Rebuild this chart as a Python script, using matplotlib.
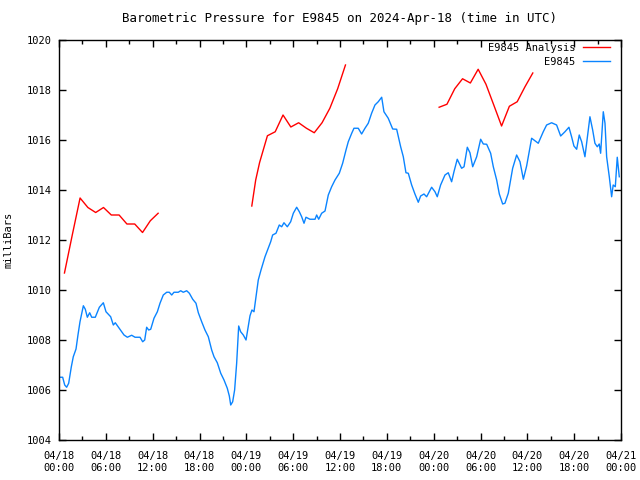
import numpy as np
import pandas as pd
import matplotlib
matplotlib.use('Agg')
import matplotlib.pyplot as plt
import matplotlib.dates as mdates

# hours after 2024-04-18 00:00 UTC
obs_hours = [0.13, 0.47, 0.73, 0.98, 1.24, 1.58, 1.83, 2.18, 2.43, 2.69, 3.12, 3.37, 3.63, 3.93,
             4.19, 4.65, 5.17, 5.68, 6.02, 6.62, 6.96, 7.21, 7.81, 8.33, 8.76, 9.31, 9.74, 10.38,
             10.72, 10.98, 11.23, 11.49, 11.75, 12.17, 12.6, 12.94, 13.36, 13.8, 14.13, 14.44,
             14.73, 15.28, 15.59, 15.92, 16.36, 16.7, 17.13, 17.55, 17.85, 18.28, 18.7, 19.13,
             19.56, 19.86, 20.28, 20.72, 21.14, 21.56, 21.82, 22.0, 22.25, 22.5, 22.76, 23.02,
             23.27, 23.61, 23.96, 24.21, 24.47, 24.72, 24.98, 25.24, 25.53, 25.88, 26.39, 26.81,
             27.12, 27.37, 27.8, 28.22, 28.53, 28.82, 29.25, 29.68, 30.02, 30.45, 30.79, 31.09,
             31.39, 31.64, 32.15, 32.8, 33.01, 33.27, 33.65, 34.08, 34.5, 34.93, 35.36, 35.91,
             36.34, 36.77, 37.06, 37.5, 37.79, 38.34, 38.77, 39.2, 39.62, 40.05, 40.48, 40.9,
             41.34, 41.63, 42.18, 42.75, 43.26, 43.77, 44.11, 44.45, 44.75, 45.18, 45.6, 46.03,
             46.33, 46.76, 47.1, 47.74, 48.17, 48.46, 48.89, 49.45, 49.87, 50.3, 50.6, 51.02,
             51.58, 51.89, 52.31, 52.65, 53.0, 53.51, 54.02, 54.36, 54.79, 55.3, 55.64, 56.07,
             56.41, 56.84, 57.13, 57.56, 58.12, 58.63, 59.06, 59.49, 59.91, 60.55, 60.85, 61.4,
             62.04, 62.47, 63.11, 63.75, 64.27, 64.82, 65.33, 65.67, 65.97, 66.32, 66.65, 66.96,
             67.38, 67.68, 68.02, 68.37, 68.66, 68.96, 69.21, 69.39, 69.73, 69.95, 70.16, 70.5,
             70.8, 71.0, 71.27, 71.52, 71.78]
obs_mb = [1006.51, 1006.51, 1006.2, 1006.11, 1006.27, 1006.93, 1007.33, 1007.64, 1008.2, 1008.73,
          1009.37, 1009.23, 1008.91, 1009.09, 1008.91, 1008.91, 1009.31, 1009.49, 1009.13, 1008.93,
          1008.6, 1008.69, 1008.43, 1008.2, 1008.11, 1008.19, 1008.11, 1008.11, 1007.93, 1008.0,
          1008.51, 1008.4, 1008.43, 1008.87, 1009.13, 1009.47, 1009.8, 1009.91, 1009.91, 1009.8,
          1009.91, 1009.91, 1009.97, 1009.91, 1009.97, 1009.87, 1009.63, 1009.47, 1009.09, 1008.73,
          1008.4, 1008.13, 1007.6, 1007.33, 1007.09, 1006.67, 1006.4, 1006.07, 1005.76, 1005.4,
          1005.53, 1006.0, 1007.07, 1008.56, 1008.33, 1008.2, 1008.0, 1008.47, 1008.97, 1009.2,
          1009.13, 1009.73, 1010.4, 1010.8, 1011.33, 1011.67, 1011.93, 1012.2, 1012.27, 1012.6,
          1012.53, 1012.69, 1012.53, 1012.73, 1013.07, 1013.31, 1013.13, 1012.93, 1012.67, 1012.91,
          1012.83, 1012.83, 1013.0, 1012.83, 1013.07, 1013.16, 1013.8, 1014.13, 1014.4, 1014.67,
          1015.07, 1015.6, 1015.93, 1016.27, 1016.47, 1016.47, 1016.24, 1016.47, 1016.67, 1017.07,
          1017.4, 1017.53, 1017.71, 1017.13, 1016.87, 1016.44, 1016.43, 1015.73, 1015.33, 1014.69,
          1014.67, 1014.2, 1013.84, 1013.51, 1013.76, 1013.84, 1013.73, 1014.11, 1013.93, 1013.73,
          1014.2, 1014.6, 1014.69, 1014.33, 1014.73, 1015.23, 1014.87, 1014.93, 1015.71, 1015.49,
          1014.93, 1015.33, 1016.03, 1015.84, 1015.83, 1015.47, 1014.93, 1014.4, 1013.84, 1013.44,
          1013.47, 1013.87, 1014.87, 1015.4, 1015.13, 1014.43, 1014.96, 1016.07, 1016.0, 1015.87,
          1016.33, 1016.6, 1016.69, 1016.6, 1016.16, 1016.33, 1016.51, 1016.13, 1015.76, 1015.63,
          1016.2, 1015.93, 1015.33, 1016.07, 1016.93, 1016.4, 1015.87, 1015.73, 1015.84, 1015.47,
          1017.13, 1016.67, 1015.33, 1014.53, 1013.73, 1014.2, 1014.13, 1015.31, 1014.53]

# analysis, three runs (hourly)
ana1_hours = [0.7, 1.7, 2.7, 3.7, 4.7, 5.7, 6.7, 7.7, 8.7, 9.7, 10.7, 11.7, 12.7]
ana1_mb = [1010.68, 1012.2, 1013.68, 1013.3, 1013.1, 1013.3, 1013.0, 1013.0, 1012.64, 1012.64,
           1012.3, 1012.77, 1013.07]
ana2_hours = [24.7, 25.2, 25.7, 26.7, 27.7, 28.7, 29.7, 30.7, 31.7, 32.7, 33.7, 34.7, 35.7, 36.7]
ana2_mb = [1013.36, 1014.4, 1015.1, 1016.17, 1016.33, 1017.0, 1016.52, 1016.69, 1016.47, 1016.29,
           1016.69, 1017.27, 1018.05, 1019.0]
ana3_hours = [48.7, 49.7, 50.7, 51.7, 52.7, 53.7, 54.7, 55.7, 56.7, 57.7, 58.7, 59.7, 60.7]
ana3_mb = [1017.31, 1017.43, 1018.05, 1018.45, 1018.28, 1018.83, 1018.23, 1017.4, 1016.56,
           1017.35, 1017.53, 1018.13, 1018.68]

start = pd.Timestamp('2024-04-18 00:00')
def to_time(h):
    return start + pd.to_timedelta(np.array(h), unit='h')

plt.rcParams['font.family'] = 'DejaVu Sans Mono'
plt.rcParams['font.size'] = 7.5

fig = plt.figure(figsize=(6.4, 4.8), dpi=100)
ax = fig.add_axes([59/640, 40/480, 562/640, 400/480])

red = '#ff0000'
blue = '#0a84ff'
ax.plot(to_time(ana1_hours), ana1_mb, color=red, lw=1, label='E9845 Analysis')
ax.plot(to_time(ana2_hours), ana2_mb, color=red, lw=1)
ax.plot(to_time(ana3_hours), ana3_mb, color=red, lw=1)
ax.plot(to_time(obs_hours), obs_mb, color=blue, lw=1, label='E9845')

ax.set_xlim(start, start + pd.Timedelta(hours=72))
ax.set_ylim(1004, 1020)
ax.set_yticks(np.arange(1004, 1021, 2))
ax.xaxis.set_major_locator(mdates.HourLocator(byhour=[0, 6, 12, 18]))
ax.xaxis.set_minor_locator(mdates.HourLocator(byhour=range(0, 24, 3)))
ax.xaxis.set_major_formatter(mdates.DateFormatter('%m/%d\n%H:%M'))
ax.tick_params(which='both', direction='in', top=True, right=True, width=1, color='black')
ax.tick_params(which='major', length=5, pad=5)
ax.tick_params(which='minor', length=3)
ax.tick_params(axis='x', pad=8)
for s in ax.spines.values():
    s.set_linewidth(1)

ax.set_ylabel('milliBars', labelpad=10)
ax.set_title('Barometric Pressure for E9845 on 2024-Apr-18 (time in UTC)', pad=13)
ax.legend(loc='upper right', bbox_to_anchor=(1 - 9/562, 1 - 1/400), frameon=False,
          markerfirst=False, handlelength=2.6, borderaxespad=0, borderpad=0.2,
          labelspacing=0.35, handletextpad=0.7)

fig.savefig('out.png', dpi=100)
